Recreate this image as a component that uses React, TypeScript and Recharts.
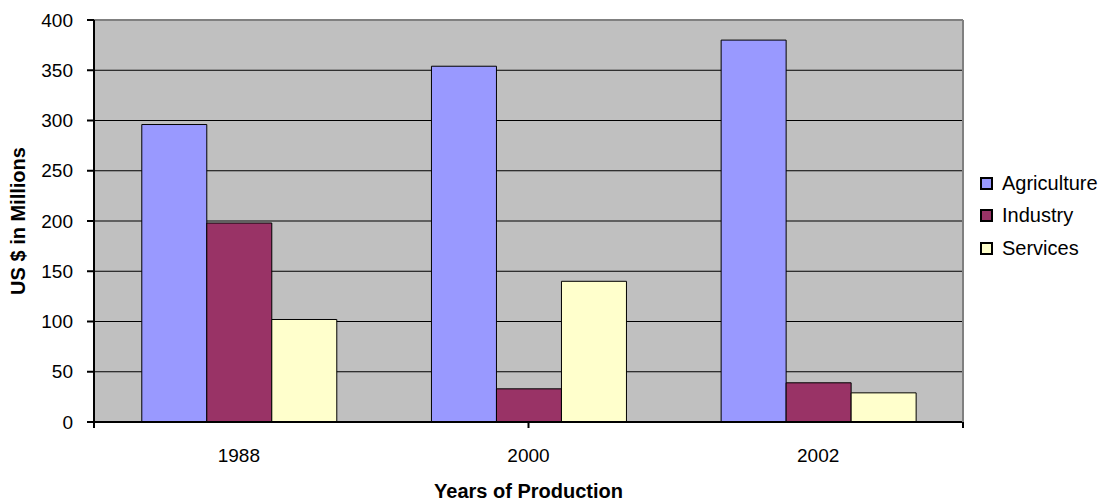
import React from 'react';
import { BarChart, Bar, XAxis, YAxis, CartesianGrid, Legend } from 'recharts';

const years = ['1988', '2000', '2002'];
const agriculture = [296, 354, 380];
const industry = [198, 33, 39];
const services = [102, 140, 29];
const yTicks = [0, 50, 100, 150, 200, 250, 300, 350, 400];
const boundaryTicks = [0, 1, 2, 3];

const seriesNames = ['Agriculture', 'Industry', 'Services'];
const seriesColors = ['#9999FF', '#993366', '#FFFFCC'];

const data = years.map((year, i) => ({
  year,
  [seriesNames[0]]: agriculture[i],
  [seriesNames[1]]: industry[i],
  [seriesNames[2]]: services[i],
}));

const font = '"Liberation Sans", Arial, sans-serif';

const renderLegend = (props: any) => (
  <div style={{ paddingLeft: 16, fontFamily: font, fontSize: 20, color: '#000' }}>
    {(props.payload || []).map((entry: any) => (
      <div
        key={entry.value}
        style={{ height: 32.5, display: 'flex', alignItems: 'center', whiteSpace: 'nowrap' }}
      >
        <span
          style={{
            display: 'inline-block',
            flexShrink: 0,
            width: 9,
            height: 9,
            border: '2px solid #000',
            background: entry.color,
            marginRight: 9,
          }}
        />
        {entry.value}
      </div>
    ))}
  </div>
);

// x title sits near the bottom edge of its axis box
const XTitle = ({ viewBox }: any) => (
  <text
    x={viewBox.x + viewBox.width / 2}
    y={viewBox.y + viewBox.height - 3}
    textAnchor="middle"
    style={{ fontSize: 20, fontWeight: 'bold', fill: '#000', fontFamily: font }}
  >
    Years of Production
  </text>
);

const NoLabel = () => <g />;

export default function App() {
  return (
    <div style={{ position: 'absolute', left: 0, top: 0, width: 1104, height: 501, background: '#fff' }}>
      <BarChart
        width={1104}
        height={501}
        data={data}
        margin={{ top: 19, right: 14, bottom: 0, left: 0 }}
        barCategoryGap="16.5%"
        barGap={0}
      >
        <CartesianGrid
          xAxisId={1}
          fill="#C0C0C0"
          stroke="#000"
          strokeWidth={1}
          vertical={false}
          fillOpacity={1}
        />
        <XAxis
          xAxisId="top"
          orientation="top"
          dataKey="year"
          height={1}
          tick={false}
          tickLine={false}
          axisLine={{ stroke: '#808080', strokeWidth: 2 }}
        />
        {/* tick marks at category boundaries, directly under the plot */}
        <XAxis
          xAxisId={0}
          type="number"
          domain={[0, 3]}
          ticks={boundaryTicks}
          interval={0}
          height={1}
          tick={NoLabel}
          tickSize={6}
          tickLine={{ stroke: '#000', strokeWidth: 2 }}
          axisLine={{ stroke: '#000', strokeWidth: 2 }}
          allowDataOverflow
        />
        <XAxis
          xAxisId={1}
          dataKey="year"
          height={78}
          tickLine={false}
          axisLine={false}
          tickSize={0}
          tickMargin={26}
          tick={{ fontSize: 19, fill: '#000', fontFamily: font }}
          label={{ content: XTitle }}
        />
        <YAxis
          width={94}
          domain={[0, 400]}
          ticks={yTicks}
          interval={0}
          tickSize={7}
          tickMargin={14}
          tick={{ fontSize: 19, fill: '#000', fontFamily: font }}
          tickLine={{ stroke: '#000', strokeWidth: 2 }}
          axisLine={{ stroke: '#000', strokeWidth: 2 }}
          label={{
            value: 'US $ in Millions',
            angle: -90,
            position: 'insideLeft',
            offset: 18,
            style: { fontSize: 20, fontWeight: 'bold', fill: '#000', fontFamily: font, textAnchor: 'middle' },
          }}
        />
        <YAxis
          yAxisId="right"
          orientation="right"
          width={1}
          domain={[0, 400]}
          tick={false}
          tickLine={false}
          axisLine={{ stroke: '#808080', strokeWidth: 2 }}
        />
        <Legend
          layout="vertical"
          align="right"
          verticalAlign="top"
          content={renderLegend}
          wrapperStyle={{ width: 126, top: 167 }}
        />
        {seriesNames.map((name, i) => (
          <Bar
            key={name}
            xAxisId={1}
            dataKey={name}
            fill={seriesColors[i]}
            stroke="#000"
            strokeWidth={1}
            isAnimationActive={false}
          />
        ))}
      </BarChart>
    </div>
  );
}
